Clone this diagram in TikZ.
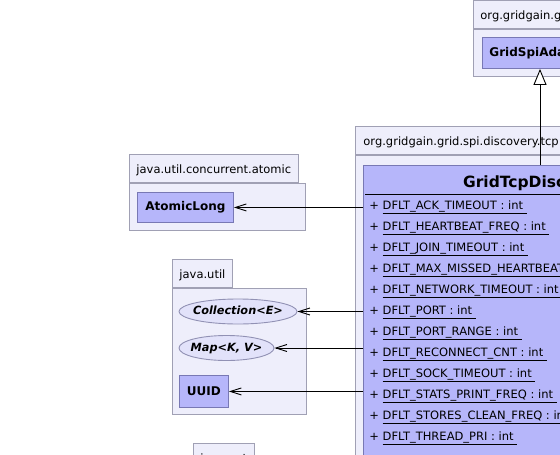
\documentclass[tikz,border=0pt]{standalone}
\usepackage{fontspec}
\setmainfont{DejaVu Sans}
\usetikzlibrary{shapes.geometric,arrows.meta}
\definecolor{pkgfill}{RGB}{238,238,251}
\definecolor{pkgline}{RGB}{160,160,180}
\definecolor{ifill}{RGB}{226,226,250}
\definecolor{iline}{RGB}{145,145,180}
\definecolor{clsfill}{RGB}{182,182,250}
\definecolor{clsline}{RGB}{120,120,180}
\newcommand{\pkgfont}{\fontsize{11.5}{13}\selectfont}
\newcommand{\clsfont}{\bfseries\fontsize{12}{14}\selectfont}
\newcommand{\uln}[1]{\setbox0\hbox{#1}\rlap{\rule[-4pt]{\wd0}{0.8pt}}\box0}
\newcommand{\ilabel}[1]{\makebox[0pt]{#1}}

\begin{document}
\begin{tikzpicture}[x=1pt,y=-1pt,line width=0.9pt,
  pkgbody/.style={draw=pkgline,fill=pkgfill,anchor=north west,inner sep=0pt},
  pkgtab/.style={draw=pkgline,fill=pkgfill,anchor=south west,inner xsep=7pt,inner ysep=0pt,
    minimum height=28pt,text height=14pt,text depth=4pt,font=\pkgfont},
  cls/.style={draw=clsline,fill=clsfill,anchor=north west,inner xsep=7pt,inner ysep=0pt,font=\clsfont},
  iface/.style={ellipse,draw=iline,fill=ifill,inner sep=0pt,text height=6pt,text depth=0pt,
    font=\bfseries\itshape\fontsize{11.3}{13}\selectfont},
  attr/.style={anchor=west,inner sep=0pt,font=\pkgfont},
  dep/.style={-{Straight Barb[length=11pt,width=7pt]}},
  gen/.style={-{Triangle[open,length=16pt,width=13pt,fill=white]}}]
\useasboundingbox (0,0) rectangle (560,455);
\clip (0,0) rectangle (560,455);
\fill[white] (0,0) rectangle (560,455);

\node[pkgbody,minimum width=160pt,minimum height=47pt] (spipkg) at (473,29) {};
\node[pkgtab] (spitab) at (spipkg.north west) {org.gridgain.grid.spi};
\node[cls,minimum height=31pt] (spiadp) at (482,37) {GridSpiAdapter};

\node[pkgbody,minimum width=400pt,minimum height=340pt] (tcppkg) at (355,155) {};
\node[pkgtab,inner xsep=8pt] (tcptab) at (tcppkg.north west) {org.gridgain.grid.spi.discovery.tcp};
\node[draw=clsline,fill=clsfill,anchor=north west,minimum width=378pt,minimum height=320pt] (tcp) at (363,165) {};
\node[font=\bfseries\fontsize{15.5}{18}\selectfont] (tcpname) at ([yshift=-18pt]tcp.north) {GridTcpDiscoverySpi};
\draw ([xshift=2pt,yshift=-29pt]tcp.north west) -- ([yshift=-29pt]tcp.north east);
\foreach \n [count=\i] in {DFLT\_ACK\_TIMEOUT,DFLT\_HEARTBEAT\_FREQ,DFLT\_JOIN\_TIMEOUT,
  DFLT\_MAX\_MISSED\_HEARTBEATS,DFLT\_NETWORK\_TIMEOUT,DFLT\_PORT,DFLT\_PORT\_RANGE,
  DFLT\_RECONNECT\_CNT,DFLT\_SOCK\_TIMEOUT,DFLT\_STATS\_PRINT\_FREQ,
  DFLT\_STORES\_CLEAN\_FREQ,DFLT\_THREAD\_PRI}
  \node[attr] (f\i) at (369,186+21*\i) {+ \uln{\n\ : int\ }};

\node[pkgbody,minimum width=176pt,minimum height=47pt] (atomicpkg) at (129,183) {};
\node[pkgtab] (atomictab) at (atomicpkg.north west) {java.util.concurrent.atomic};
\node[cls,minimum width=96pt,minimum height=30pt] (atomic) at (137,192) {AtomicLong};

\node[pkgbody,minimum width=134pt,minimum height=126pt] (utilpkg) at (172,288) {};
\node[pkgtab] (utiltab) at (utilpkg.north west) {java.util};
\node[iface,minimum width=118pt,minimum height=25pt] (coll) at (238,311.5) {\ilabel{Collection<E>}};
\node[iface,minimum width=95pt,minimum height=25pt] (map) at (226.5,348) {\ilabel{Map<K, V>}};
\node[cls,minimum width=49pt,minimum height=32pt] (uuid) at (179,375) {UUID};

\node[pkgbody,minimum width=120pt,minimum height=40pt] (netpkg) at (193,472) {};
\node[pkgtab] (nettab) at (netpkg.north west) {java.net};

\coordinate (gx) at (540,0);
\draw[gen] (gx |- tcp.north) -- (gx |- spiadp.south);
\draw[dep] (tcp.west |- atomic) -- (atomic);
\draw[dep] (tcp.west |- coll) -- (coll);
\draw[dep] (tcp.west |- map) -- (map);
\draw[dep] (tcp.west |- uuid) -- (uuid);
\end{tikzpicture}
\end{document}
